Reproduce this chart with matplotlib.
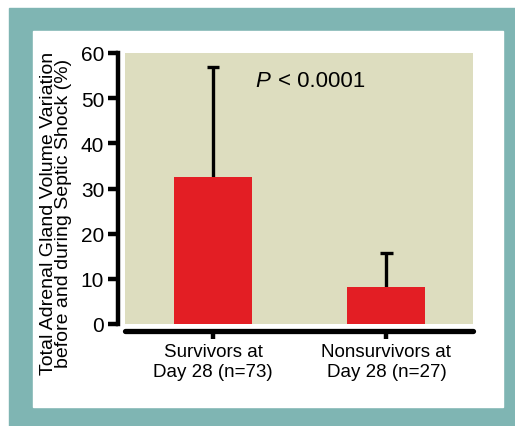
import matplotlib
matplotlib.use("Agg")
import matplotlib.pyplot as plt
from matplotlib.patches import Rectangle

categories = ["Survivors at\nDay 28 (n=73)", "Nonsurvivors at\nDay 28 (n=27)"]
means = [32.5, 8.3]
upper_err = [24.5, 7.4]
yticks = [0, 10, 20, 30, 40, 50, 60]

plt.rcParams['font.family'] = ['Liberation Sans', 'DejaVu Sans']

W, H = 515, 427
fig = plt.figure(figsize=(W/100, H/100), dpi=100)
fig.patch.set_facecolor("white")

teal = "#7FB5B3"
def px_rect(x0, y0, x1, y1, color, z):
    fig.patches.append(Rectangle((x0/W, 1 - y1/H), (x1-x0)/W, (y1-y0)/H,
                                 transform=fig.transFigure, color=color, zorder=z))
px_rect(9, 9, 515, 427, teal, -20)
px_rect(33, 32, 503, 408, "white", -19)

ax = fig.add_axes([125/W, 1-325/H, 348/W, 271/H])
ax.set_zorder(5)
ax.set_facecolor("#DDDDBF")
x = [0, 1]
ax.bar(x, means, width=0.45, color="#E31E24", zorder=3)
tops = [m + e for m, e in zip(means, upper_err)]
ax.vlines(x, means, tops, color="black", linewidth=2.4, zorder=2)
for xi, t in zip(x, tops):
    ax.plot([xi - 0.035, xi + 0.035], [t, t], color="black", linewidth=2.4,
            solid_capstyle="butt", zorder=2)
ax.set_xlim(-0.507, 1.499)
ax.set_ylim(0, 60)
ax.set_yticks(yticks)
ax.set_yticklabels([str(v) for v in yticks])
ax.set_xticks(x)
ax.set_xticklabels(categories, linespacing=1.5)
for s in ["top", "right"]:
    ax.spines[s].set_visible(False)
ax.spines["left"].set_position(("outward", 5))
ax.spines["bottom"].set_position(("outward", 5))
ax.spines["left"].set_linewidth(3.2)
ax.spines["bottom"].set_linewidth(3.8)
ax.spines["bottom"].set_capstyle("round")
ax.spines["left"].set_capstyle("projecting")
ax.tick_params(axis="y", length=7, width=3.2, pad=3, labelsize=15)
ax.tick_params(axis="x", length=6, width=3.2, pad=3, labelsize=13.5)
ax.set_ylabel("Total Adrenal Gland Volume Variation\nbefore and during Septic Shock (%)",
              fontsize=14, linespacing=0.85)
ax.yaxis.set_label_coords(-0.152, 0.41)
ax.text(0.374, 0.898, "P", transform=ax.transAxes, fontsize=16,
        ha="left", va="center", style="italic")
ax.text(0.44, 0.898, "< 0.0001", transform=ax.transAxes, fontsize=16,
        ha="left", va="center")

fig.savefig("out.png", dpi=100)
